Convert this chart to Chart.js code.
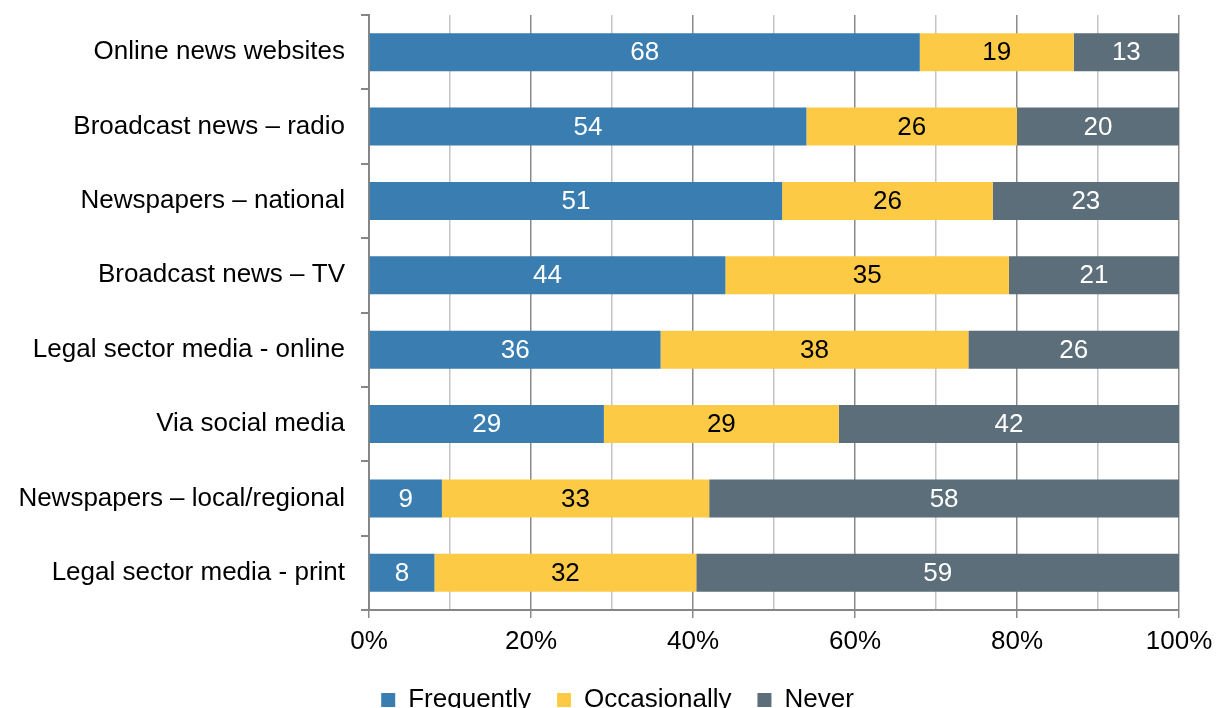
<!DOCTYPE html>
<html>
<head>
<meta charset="utf-8">
<script src="https://cdn.jsdelivr.net/npm/chart.js@4/dist/chart.umd.min.js"></script>
<style>
  html, body { margin: 0; padding: 0; background: #ffffff; }
  #wrap { width: 1221px; height: 708px; }
</style>
</head>
<body>
<div id="wrap"><canvas id="myChart" width="1221" height="708"></canvas></div>
<script>
const categories = [
    'Online news websites',
    'Broadcast news \u2013 radio',
    'Newspapers \u2013 national',
    'Broadcast news \u2013 TV',
    'Legal sector media - online',
    'Via social media',
    'Newspapers \u2013 local/regional',
    'Legal sector media - print'
];
const frequently = [68, 54, 51, 44, 36, 29, 9, 8];
const occasionally = [19, 26, 26, 35, 38, 29, 33, 32];
const never = [13, 20, 23, 21, 26, 42, 58, 59];

const seriesNames = ['Frequently', 'Occasionally', 'Never'];
const seriesColors = ['#3A7DB0', '#FDCA45', '#5B6E79'];
const labelColors = ['#ffffff', '#000000', '#ffffff'];

// each row is shown as share of 100%
const totals = categories.map((c, i) => frequently[i] + occasionally[i] + never[i]);
const asShare = arr => arr.map((v, i) => v / totals[i] * 100);
const rawSeries = [frequently, occasionally, never];

const FONT = 'Liberation Sans, Arial, sans-serif';

// writes the raw value in the middle of every bar piece
const barLabels = {
    id: 'barLabels',
    afterDatasetsDraw(chart) {
        const ctx = chart.ctx;
        ctx.save();
        ctx.font = '26px ' + FONT;
        ctx.textAlign = 'center';
        ctx.textBaseline = 'middle';
        chart.data.datasets.forEach((ds, di) => {
            const meta = chart.getDatasetMeta(di);
            meta.data.forEach((bar, i) => {
                const cx = (bar.x + bar.base) / 2;
                ctx.fillStyle = labelColors[di];
                ctx.fillText(String(rawSeries[di][i]), cx, bar.y + 1);
            });
        });
        ctx.restore();
    }
};

// nudge the legend a bit to the right, like the original
const legendShift = {
    id: 'legendShift',
    afterLayout(chart) {
        if (chart.legend) {
            chart.legend.left += 28;
            chart.legend.right += 28;
        }
    }
};

function renderChart() {
    const ctx = document.getElementById('myChart');

    new Chart(ctx, {
        type: 'bar',
        data: {
            labels: categories,
            datasets: rawSeries.map((arr, k) => ({
                label: seriesNames[k],
                data: asShare(arr),
                backgroundColor: seriesColors[k],
                borderWidth: 0,
                categoryPercentage: 1,
                barPercentage: 0.51
            }))
        },
        options: {
            indexAxis: 'y',
            responsive: false,
            animation: false,
            layout: {
                padding: { top: 15, right: 42, left: 0, bottom: -15 }
            },
            plugins: {
                tooltip: { enabled: false },
                legend: {
                    position: 'bottom',
                    labels: {
                        color: '#000000',
                        boxWidth: 14,
                        boxHeight: 14,
                        padding: 26,
                        font: { size: 26, family: FONT }
                    }
                }
            },
            scales: {
                x: {
                    stacked: true,
                    min: 0,
                    max: 100,
                    afterFit: s => { s.height = 51; },
                    ticks: {
                        stepSize: 10,
                        color: '#000000',
                        padding: 8,
                        maxRotation: 0,
                        autoSkip: false,
                        font: { size: 26, family: FONT },
                        callback: v => (v % 20 === 0 ? v + '%' : '')
                    },
                    grid: {
                        color: c => (c.tick && c.tick.value % 20 === 0 ? '#8a8a8a' : '#c4c4c4'),
                        tickColor: c => (c.tick && c.tick.value % 20 === 0 ? '#8a8a8a' : 'rgba(0,0,0,0)'),
                        tickLength: 8,
                        lineWidth: 1.5
                    },
                    border: { color: '#868686', width: 2 }
                },
                y: {
                    stacked: true,
                    afterFit: s => {
                        s.width = 369;
                        s.paddingTop = 0;
                        s.paddingBottom = 0;
                    },
                    ticks: {
                        color: '#000000',
                        padding: 16,
                        font: { size: 26, family: FONT }
                    },
                    grid: {
                        drawOnChartArea: false,
                        tickLength: 8,
                        tickColor: '#868686',
                        lineWidth: 2
                    },
                    border: { color: '#868686', width: 2 }
                }
            }
        },
        plugins: [barLabels, legendShift]
    });
}

renderChart();
</script>
</body>
</html>
